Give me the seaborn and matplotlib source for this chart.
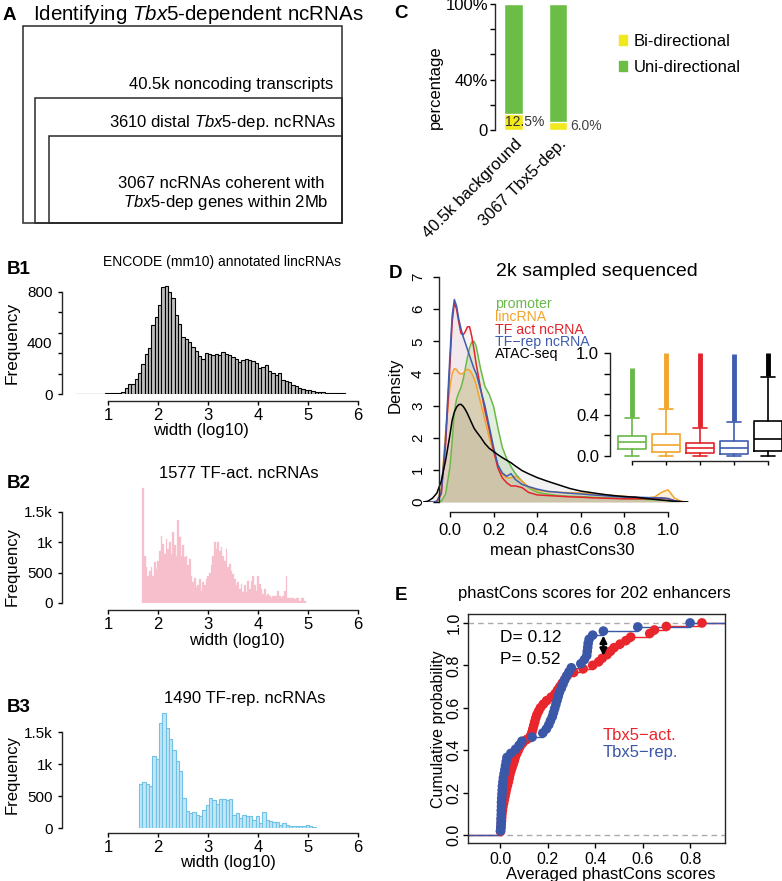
import numpy as np
import pandas as pd
import seaborn as sns
import matplotlib.pyplot as plt
from matplotlib.patches import Rectangle, Patch

# ---------------- data ----------------
# B1-B3: histogram counts (bin start, bin width, counts per bin)
b1_start, b1_width = 1 / 3, 1 / 15
b1_counts = [1, 1, 1, 2, 1, 2, 2, 3, 3, 5,
             10, 5, 10, 10, 18, 45, 76, 81, 115, 165,
             235, 311, 363, 541, 606, 698, 842, 847, 802, 755,
             620, 546, 450, 429, 410, 371, 340, 301, 274, 319,
             314, 306, 311, 306, 332, 314, 306, 293, 274, 254,
             267, 274, 267, 259, 240, 201, 214, 227, 180, 162,
             149, 162, 110, 102, 92, 71, 65, 50, 39, 31,
             31, 24, 18, 13, 13, 10, 10, 10, 5, 5, 5, 3]

b2_start, b2_width = 1.687, 1 / 30
b2_counts = [1900, 780, 590, 450, 530, 590, 450, 670, 560, 700,
             860, 1110, 970, 810, 1060, 890, 1000, 810, 1170, 950,
             780, 1360, 1080, 780, 950, 750, 780, 620, 730, 450,
             340, 420, 260, 290, 400, 200, 340, 290, 400, 450,
             500, 620, 780, 1000, 890, 1000, 860, 920, 780, 700,
             890, 590, 640, 530, 480, 400, 290, 340, 230, 310,
             175, 290, 175, 370, 230, 370, 450, 290, 200, 450,
             310, 230, 150, 230, 120, 150, 120, 90, 120, 120,
             110, 200, 120, 90, 120, 200, 450, 90, 90, 90,
             90, 60, 90, 90, 40, 90, 90, 40]

b3_start, b3_width = 1.62, 1 / 15
b3_counts = [686, 718, 692, 660, 1128, 1076, 1638, 1804, 1560, 1388,
             1222, 1050, 884, 468, 260, 234, 244, 208, 182, 286,
             364, 468, 432, 380, 452, 452, 442, 452, 208, 234,
             156, 208, 182, 182, 130, 182, 78, 244, 120, 104,
             88, 88, 52, 78, 52, 36, 26, 36, 26, 26,
             52, 26, 16]

# C: bi/uni-directional share
c_groups = ["40.5k background", "3067 Tbx5-dep."]
c_bi = [12.5, 6.0]
c_uni = [87.5, 94.0]

# D: density curves of mean phastCons30
d_x = [-0.12, -0.1, -0.08, -0.06, -0.04, -0.02, 0.0, 0.01, 0.02, 0.03,
       0.04, 0.05, 0.06, 0.07, 0.08, 0.09, 0.1, 0.11, 0.12, 0.14,
       0.16, 0.18, 0.2, 0.22, 0.24, 0.26, 0.28, 0.3, 0.33, 0.36,
       0.4, 0.45, 0.5, 0.55, 0.6, 0.65, 0.7, 0.75, 0.8, 0.85,
       0.9, 0.94, 0.97, 1.0, 1.03, 1.06, 1.09]
d_promoter = [0, 0, 0, 0, 0.02, 0.25, 1.1, 1.9, 2.8, 3.2,
              3.4, 3.55, 3.8, 4.15, 4.5, 4.8, 4.98, 5.0, 4.85, 4.15,
              3.6, 3.35, 2.97, 2.3, 1.7, 1.35, 1.1, 0.88, 0.65, 0.45,
              0.3, 0.24, 0.2, 0.18, 0.17, 0.15, 0.14, 0.12, 0.1, 0.09,
              0.08, 0.07, 0.06, 0.05, 0.02, 0.005, 0]
d_lincrna = [0, 0, 0, 0.02, 0.4, 2.2, 3.6, 4.0, 4.15, 4.12,
             4.02, 3.98, 4.0, 4.08, 4.13, 4.1, 4.0, 3.85, 3.65, 3.1,
             2.55, 2.0, 1.55, 1.1, 0.85, 0.75, 0.75, 0.8, 0.65, 0.47,
             0.36, 0.32, 0.3, 0.29, 0.28, 0.25, 0.23, 0.2, 0.18, 0.14,
             0.12, 0.16, 0.3, 0.38, 0.12, 0.02, 0]
d_tfact = [0, 0, 0, 0.02, 0.25, 1.8, 4.3, 5.6, 6.2, 6.0,
           5.6, 5.25, 5.2, 5.3, 5.45, 5.45, 5.15, 4.75, 4.3, 3.55,
           2.85, 2.25, 1.6, 1.05, 0.75, 0.6, 0.5, 0.5, 0.45, 0.3,
           0.22, 0.2, 0.18, 0.16, 0.15, 0.13, 0.12, 0.11, 0.1, 0.1,
           0.1, 0.11, 0.12, 0.1, 0.04, 0.01, 0]
d_tfrep = [0, 0, 0, 0.02, 0.3, 2.0, 4.6, 5.8, 6.3, 6.1,
           5.7, 5.4, 5.15, 4.95, 4.75, 4.55, 4.35, 4.15, 4.0, 3.5,
           3.0, 2.35, 1.7, 1.15, 0.9, 0.8, 0.88, 0.7, 0.55, 0.48,
           0.4, 0.33, 0.3, 0.27, 0.25, 0.22, 0.2, 0.17, 0.15, 0.15,
           0.14, 0.13, 0.13, 0.11, 0.04, 0.01, 0]
d_atac = [0.0, 0.03, 0.12, 0.28, 0.65, 1.3, 2.1, 2.55, 2.8, 2.95,
          3.03, 3.04, 2.98, 2.88, 2.75, 2.6, 2.45, 2.3, 2.2, 2.02,
          1.82, 1.67, 1.57, 1.47, 1.38, 1.3, 1.22, 1.12, 0.98, 0.88,
          0.76, 0.64, 0.53, 0.42, 0.34, 0.29, 0.24, 0.2, 0.17, 0.15,
          0.11, 0.08, 0.06, 0.04, 0.02, 0.01, 0.0]
d_names = ["promoter", "lincRNA", "TF act ncRNA", "TF\u2212rep ncRNA", "ATAC-seq"]

# D inset: box statistics per class
box_q1 = [0.07, 0.04, 0.03, 0.023, 0.05]
box_med = [0.137, 0.104, 0.08, 0.078, 0.163]
box_q3 = [0.19, 0.21, 0.127, 0.15, 0.34]
box_whislo = [0.0, 0.0, 0.0, 0.0, 0.0]
box_whishi = [0.365, 0.46, 0.27, 0.33, 0.77]
box_out_lo = [0.38, 0.47, 0.28, 0.34, 0.78]
box_out_hi = [0.85, 1.0, 1.0, 0.99, 1.0]

# E: averaged phastCons scores of the enhancers
e_act = [0.002, 0.004, 0.005, 0.006, 0.007, 0.008, 0.010, 0.012, 0.015, 0.018,
         0.021, 0.024, 0.027, 0.031, 0.035, 0.038, 0.041, 0.045, 0.050, 0.055,
         0.060, 0.064, 0.070, 0.077, 0.084, 0.095, 0.112, 0.128, 0.134, 0.138,
         0.142, 0.146, 0.150, 0.155, 0.162, 0.170, 0.182, 0.196, 0.215, 0.232,
         0.242, 0.252, 0.262, 0.272, 0.282, 0.31, 0.35, 0.39, 0.415, 0.43,
         0.45, 0.465, 0.48, 0.505, 0.53, 0.55, 0.63, 0.65, 0.70, 0.85]
e_rep = [0.002, 0.003, 0.004, 0.004, 0.005, 0.005, 0.006, 0.006, 0.007, 0.008,
         0.009, 0.010, 0.012, 0.014, 0.017, 0.020, 0.023, 0.026, 0.029, 0.045,
         0.065, 0.08, 0.092, 0.135, 0.18, 0.195, 0.205, 0.212, 0.22, 0.225,
         0.23, 0.235, 0.24, 0.245, 0.25, 0.258, 0.265, 0.272, 0.28, 0.29,
         0.30, 0.34, 0.355, 0.365, 0.367, 0.369, 0.371, 0.375, 0.39, 0.435,
         0.58, 0.80]
e_D, e_P = 0.12, 0.52
e_arrow_x, e_arrow_lo, e_arrow_hi = 0.435, 0.845, 0.94

# ---------------- style ----------------
W, H = 782, 881
PT = 0.72  # points per pixel at 100 dpi

GREEN = "#6ab84a"
ORANGE = "#f2a42c"
RED = "#e3242b"
BLUE = "#3f5caf"
C_GREEN = "#6cbd45"
C_YELLOW = "#f2e81e"
E_RED = "#e8262c"
E_BLUE = "#3b57a8"

sns.set_style("ticks")
plt.rcParams["font.family"] = ["Liberation Sans", "DejaVu Sans"]
plt.rcParams["mathtext.fontset"] = "custom"
plt.rcParams["mathtext.it"] = "Liberation Sans:italic"
plt.rcParams["mathtext.rm"] = "Liberation Sans"
plt.rcParams["axes.linewidth"] = 1.0
plt.rcParams["axes.facecolor"] = "none"
plt.rcParams["xtick.major.width"] = 1.0
plt.rcParams["ytick.major.width"] = 1.0
plt.rcParams["text.color"] = "black"
plt.rcParams["axes.labelcolor"] = "black"
plt.rcParams["xtick.color"] = "black"
plt.rcParams["ytick.color"] = "black"

fig = plt.figure(figsize=(W / 100, H / 100), dpi=100)


def px_axes(box):
    x0, y0, x1, y1 = box
    return fig.add_axes([x0 / W, 1 - y1 / H, (x1 - x0) / W, (y1 - y0) / H])


def at(box, px, py):
    x0, y0, x1, y1 = box
    return (px - x0) / (x1 - x0), (y1 - py) / (y1 - y0)


def put_xlabel(ax, box, text, px, py, size):
    ax.set_xlabel(text, fontsize=size)
    ax.xaxis.set_label_coords(*at(box, px, py))
    ax.xaxis.label.set_va("center")


def put_ylabel(ax, box, text, px, py, size):
    ax.set_ylabel(text, fontsize=size)
    ax.yaxis.set_label_coords(*at(box, px, py))
    ax.yaxis.label.set_va("center")
    ax.yaxis.label.set_ha("center")


def put_title(ax, box, text, px, py, size):
    x, y = at(box, px, py)
    ax.set_title(text, fontsize=size, x=x, y=y, va="center")


def hist_panel(box, start, width, counts, face, edge, lw, ymax, left_off, bottom_off):
    ax = px_axes(box)
    edges = [start + width * k for k in range(len(counts) + 1)]
    df = pd.DataFrame({"width": [e + width / 2 for e in edges[:-1]], "n": counts})
    sns.histplot(data=df, x="width", weights="n", bins=edges, color=face,
                 edgecolor=edge, linewidth=lw, alpha=1, ax=ax)
    ax.set_xlim(0.3, 6.0)
    ax.set_ylim(0, ymax)
    ax.spines["top"].set_visible(False)
    ax.spines["right"].set_visible(False)
    ax.spines["left"].set_position(("outward", left_off * PT))
    ax.spines["bottom"].set_position(("outward", bottom_off * PT))
    ax.spines["bottom"].set_bounds(1, 6)
    ax.set_xticks(range(1, 7))
    ax.tick_params(axis="x", length=4 * PT, pad=2, labelsize=12)
    ax.tick_params(axis="y", length=4 * PT, pad=5 * PT, labelsize=11)
    return ax


# ---------------- B1 ----------------
b1_box = (73, 283, 358, 394)
ax = hist_panel(b1_box, b1_start, b1_width, b1_counts, "#bdbdbd", "black", 0.8,
                870, 11, 7)
ax.spines["left"].set_bounds(0, 800)
ax.set_yticks([0, 160, 320, 480, 640, 800], ["0", "", "", "", "", "800"])
ax.set_yticks([400], ["400"], minor=True)
ax.tick_params(axis="y", which="minor", length=0, pad=10 * PT, labelsize=11)
put_title(ax, b1_box, "ENCODE (mm10) annotated lincRNAs", 222, 270, 10)
put_ylabel(ax, b1_box, "Frequency", 12, 343, 12.5)
put_xlabel(ax, b1_box, "width (log10)", 201, 430, 12)

# ---------------- B2 ----------------
b2_box = (73, 486.5, 358, 603)
ax = hist_panel(b2_box, b2_start, b2_width, b2_counts, "#f6bfcb", "#f6bfcb", 0.2,
                1920, 11, 7)
ax.spines["left"].set_bounds(0, 1500)
ax.set_yticks([0, 500, 1000, 1500], ["0", "500", "1k", "1.5k"])
put_title(ax, b2_box, "1577 TF-act. ncRNAs", 239, 482, 12)
put_ylabel(ax, b2_box, "Frequency", 12, 567, 12)
put_xlabel(ax, b2_box, "width (log10)", 237, 640, 12)

# ---------------- B3 ----------------
b3_box = (73, 709.6, 358, 828)
ax = hist_panel(b3_box, b3_start, b3_width, b3_counts, "#c4e7f6", "#6fc2e6", 0.8,
                1850, 11, 5)
ax.spines["left"].set_bounds(0, 1500)
ax.set_yticks([0, 500, 1000, 1500], ["0", "500", "1k", "1.5k"])
put_title(ax, b3_box, "1490 TF-rep. ncRNAs", 245, 707, 12)
put_ylabel(ax, b3_box, "Frequency", 12, 775, 12)
put_xlabel(ax, b3_box, "width (log10)", 228, 863, 12)

# ---------------- C ----------------
c_box = (495, 4, 580, 130)
ax = px_axes(c_box)
c_total = [b + u for b, u in zip(c_bi, c_uni)]
sns.barplot(x=c_groups, y=c_total, color=C_GREEN, width=0.43, saturation=1, ax=ax)
sns.barplot(x=c_groups, y=c_bi, color=C_YELLOW, width=0.43, saturation=1, ax=ax)
ax.set_xlim(-0.43, 1.5)
ax.set_ylim(0, 100)
for s in ["top", "right", "bottom"]:
    ax.spines[s].set_visible(False)
ax.tick_params(axis="x", length=0, labelbottom=False)
ax.set_yticks([0, 20, 40, 60, 80, 100], ["0", "", "40%", "", "", "100%"])
ax.tick_params(axis="y", length=5 * PT, pad=2 * PT, labelsize=12)
label_dx = [-0.2, 0.27]
label_col = ["#333333", "#444444"]
for i, v in enumerate(c_bi):
    ax.text(i + label_dx[i], v / 2, f"{v:.1f}%", fontsize=10, color=label_col[i],
            ha="left", va="center")
for i, g in enumerate(c_groups):
    ax.text(i + 0.14, -9.5, g, rotation=45, ha="right", va="center",
            rotation_mode="anchor", fontsize=12, clip_on=False)
ax.set_xlabel("")
put_ylabel(ax, c_box, "percentage", 435, 87, 12)
fig.legend(handles=[Patch(color=C_YELLOW), Patch(color=C_GREEN)],
           labels=["Bi-directional", "Uni-directional"],
           loc="upper left", bbox_to_anchor=(619 / W, 1 - 34 / H),
           frameon=False, fontsize=12, handlelength=0.5, handleheight=0.55,
           handletextpad=0.4, labelspacing=0.68, borderpad=0, borderaxespad=0)

# ---------------- D ----------------
d_box = (422.75, 275.4, 689.8, 502)
ax = px_axes(d_box)
d_cols = [GREEN, ORANGE, RED, BLUE, "black"]
d_fill_alpha = [0.2, 0.16, 0.06, 0.06, 0.05]
d_series = [d_promoter, d_lincrna, d_tfact, d_tfrep, d_atac]
df_d = pd.DataFrame({
    "x": d_x * len(d_names),
    "density": sum(d_series, []),
    "type": np.repeat(d_names, len(d_x)),
})
for ys, col, a in zip(d_series, d_cols, d_fill_alpha):
    ax.fill_between(d_x, ys, color=col, alpha=a, lw=0)
sns.lineplot(data=df_d, x="x", y="density", hue="type",
             palette=dict(zip(d_names, d_cols)), sort=False, estimator=None,
             lw=1.1, legend=False, ax=ax)
ax.set_xlim(-0.125, 1.1)
ax.set_ylim(0, 7.05)
ax.spines["top"].set_visible(False)
ax.spines["right"].set_visible(False)
ax.spines["left"].set_position(("data", -0.05))
ax.spines["left"].set_bounds(0, 7)
ax.spines["bottom"].set_position(("outward", 10 * PT))
ax.spines["bottom"].set_bounds(0, 1)
ax.set_xticks([0, 0.2, 0.4, 0.6, 0.8, 1.0], ["0.0", "0.2", "0.4", "0.6", "0.8", "1.0"])
ax.set_yticks(range(8))
ax.tick_params(axis="x", length=5 * PT, pad=6 * PT, labelsize=12)
ax.tick_params(axis="y", length=6 * PT, pad=8 * PT, labelsize=11, labelrotation=90)
plt.setp(ax.get_yticklabels(), va="center")
put_title(ax, d_box, "2k sampled sequenced", 597, 280, 14)
put_xlabel(ax, d_box, "mean phastCons30", 562, 550, 12)
put_ylabel(ax, d_box, "Density", 395, 385, 12)

# D inset boxplot
in_box = (610, 352, 782, 457)
axi = px_axes(in_box)
stats = [dict(q1=q1, med=m, q3=q3, whislo=lo, whishi=hi, fliers=[])
         for q1, m, q3, lo, hi in zip(box_q1, box_med, box_q3, box_whislo, box_whishi)]
pos = list(range(1, len(stats) + 1))
art = axi.bxp(stats, positions=pos, widths=0.82, capwidths=0.41,
              showfliers=False, manage_ticks=False)
for i, col in enumerate(d_cols):
    art["boxes"][i].set(color=col, lw=1.2)
    art["medians"][i].set(color=col, lw=1.2)
    for k in (2 * i, 2 * i + 1):
        art["whiskers"][k].set(color=col, lw=1.2)
        art["caps"][k].set(color=col, lw=1.2)
axi.vlines(pos, box_out_lo, box_out_hi, colors=d_cols, lw=3.5)
axi.set_xlim(0.35, 5.41)
axi.set_ylim(-0.01, 1.01)
axi.spines["top"].set_visible(False)
axi.spines["right"].set_visible(False)
axi.spines["left"].set_bounds(0, 1)
axi.spines["bottom"].set_position(("outward", 4 * PT))
axi.spines["bottom"].set_bounds(1, 5)
axi.set_xticks(pos, [""] * len(pos))
axi.set_yticks([0, 0.2, 0.4, 0.6, 0.8, 1.0], ["0.0", "", "0.4", "", "", "1.0"])
axi.tick_params(axis="x", length=4 * PT)
axi.tick_params(axis="y", length=6 * PT, pad=5 * PT, labelsize=12)

# ---------------- E ----------------
e_box = (468, 614, 725, 843)
ax = px_axes(e_box)
ax.axhline(0, color="#aaaaaa", ls=(0, (4, 3)), lw=1, zorder=0.5)
ax.axhline(1, color="#aaaaaa", ls=(0, (4, 3)), lw=1, zorder=0.5)
for vals, col in [(e_act, E_RED), (e_rep, E_BLUE)]:
    v = np.sort(vals)
    p = np.arange(1, len(v) + 1) / len(v)
    sns.ecdfplot(x=v, color=col, lw=1, ax=ax)
    ax.hlines(0, -0.2, v[0], color=col, lw=1)
    ax.hlines(1, v[-1], 1.0, color=col, lw=1)
    sns.scatterplot(x=v, y=p, color=col, s=48, edgecolor="none", ax=ax, zorder=3)
ax.annotate("", xy=(e_arrow_x, e_arrow_hi), xytext=(e_arrow_x, e_arrow_lo),
            arrowprops=dict(arrowstyle="<|-|>", color="black", lw=1.8,
                            mutation_scale=10, shrinkA=0, shrinkB=0), zorder=5)
ax.set_xlim(-0.135, 0.947)
ax.set_ylim(-0.038, 1.042)
ax.set_xticks([0, 0.2, 0.4, 0.6, 0.8], ["0.0", "0.2", "0.4", "0.6", "0.8"])
ax.set_yticks([0, 0.2, 0.4, 0.6, 0.8, 1.0],
              ["0.0", "0.2", "0.4", "0.6", "0.8", "1.0"])
ax.tick_params(axis="x", length=5 * PT, pad=4 * PT, labelsize=11.5)
ax.tick_params(axis="y", length=5 * PT, pad=1.5 * PT, labelsize=11.5, labelrotation=90)
plt.setp(ax.get_yticklabels(), va="center")
put_title(ax, e_box, "phastCons scores for 202 enhancers", 594, 602, 12)
put_xlabel(ax, e_box, "Averaged phastCons scores", 611, 874, 12)
put_ylabel(ax, e_box, "Cumulative probability", 438, 729, 11.5)

# ---------------- overlay: panel A, letters, free text ----------------
ax0 = fig.add_axes([0, 0, 1, 1], zorder=10)
ax0.set_xlim(0, W)
ax0.set_ylim(H, 0)
ax0.axis("off")

for left, top in zip([23, 35, 49], [26, 98, 136]):
    ax0.add_patch(Rectangle((left, top), 342 - left, 223 - top, fill=False,
                            ec="#2a2a2a", lw=1.1))
ax0.text(33, 14, r"Identifying $\mathit{Tbx5}$-dependent ncRNAs", fontsize=14.8,
         ha="left", va="center")
ax0.text(333, 84, "40.5k noncoding transcripts", fontsize=12, ha="right", va="center")
ax0.text(336, 122, r"3610 distal $\mathit{Tbx5}$-dep. ncRNAs", fontsize=12,
         ha="right", va="center")
ax0.text(325, 183, "3067 ncRNAs coherent with", fontsize=12, ha="right", va="center")
ax0.text(329, 203, r"$\mathit{Tbx5}$-dep genes within 2Mb", fontsize=12,
         ha="right", va="center")

for lab, x, y in [("A", 3, 16), ("B1", 7, 269), ("B2", 7, 484), ("B3", 7, 708),
                  ("C", 394, 14), ("D", 389, 274), ("E", 395, 596)]:
    ax0.text(x, y, lab, fontsize=13.5, fontweight="bold", ha="left", va="center")

for name, col, y in zip(d_names, d_cols, [304, 317, 330, 342, 354]):
    ax0.text(495, y, name, color=col, fontsize=10.2, ha="left", va="center")

ax0.text(500, 638, f"D= {e_D:.2f}", fontsize=12.5, ha="left", va="center")
ax0.text(500, 660, f"P= {e_P:.2f}", fontsize=12.5, ha="left", va="center")
ax0.text(603, 735, "Tbx5\u2212act.", color=E_RED, fontsize=12, ha="left", va="center")
ax0.text(603, 752, "Tbx5\u2212rep.", color=E_BLUE, fontsize=12, ha="left", va="center")

fig.savefig("out.png", dpi=100)
